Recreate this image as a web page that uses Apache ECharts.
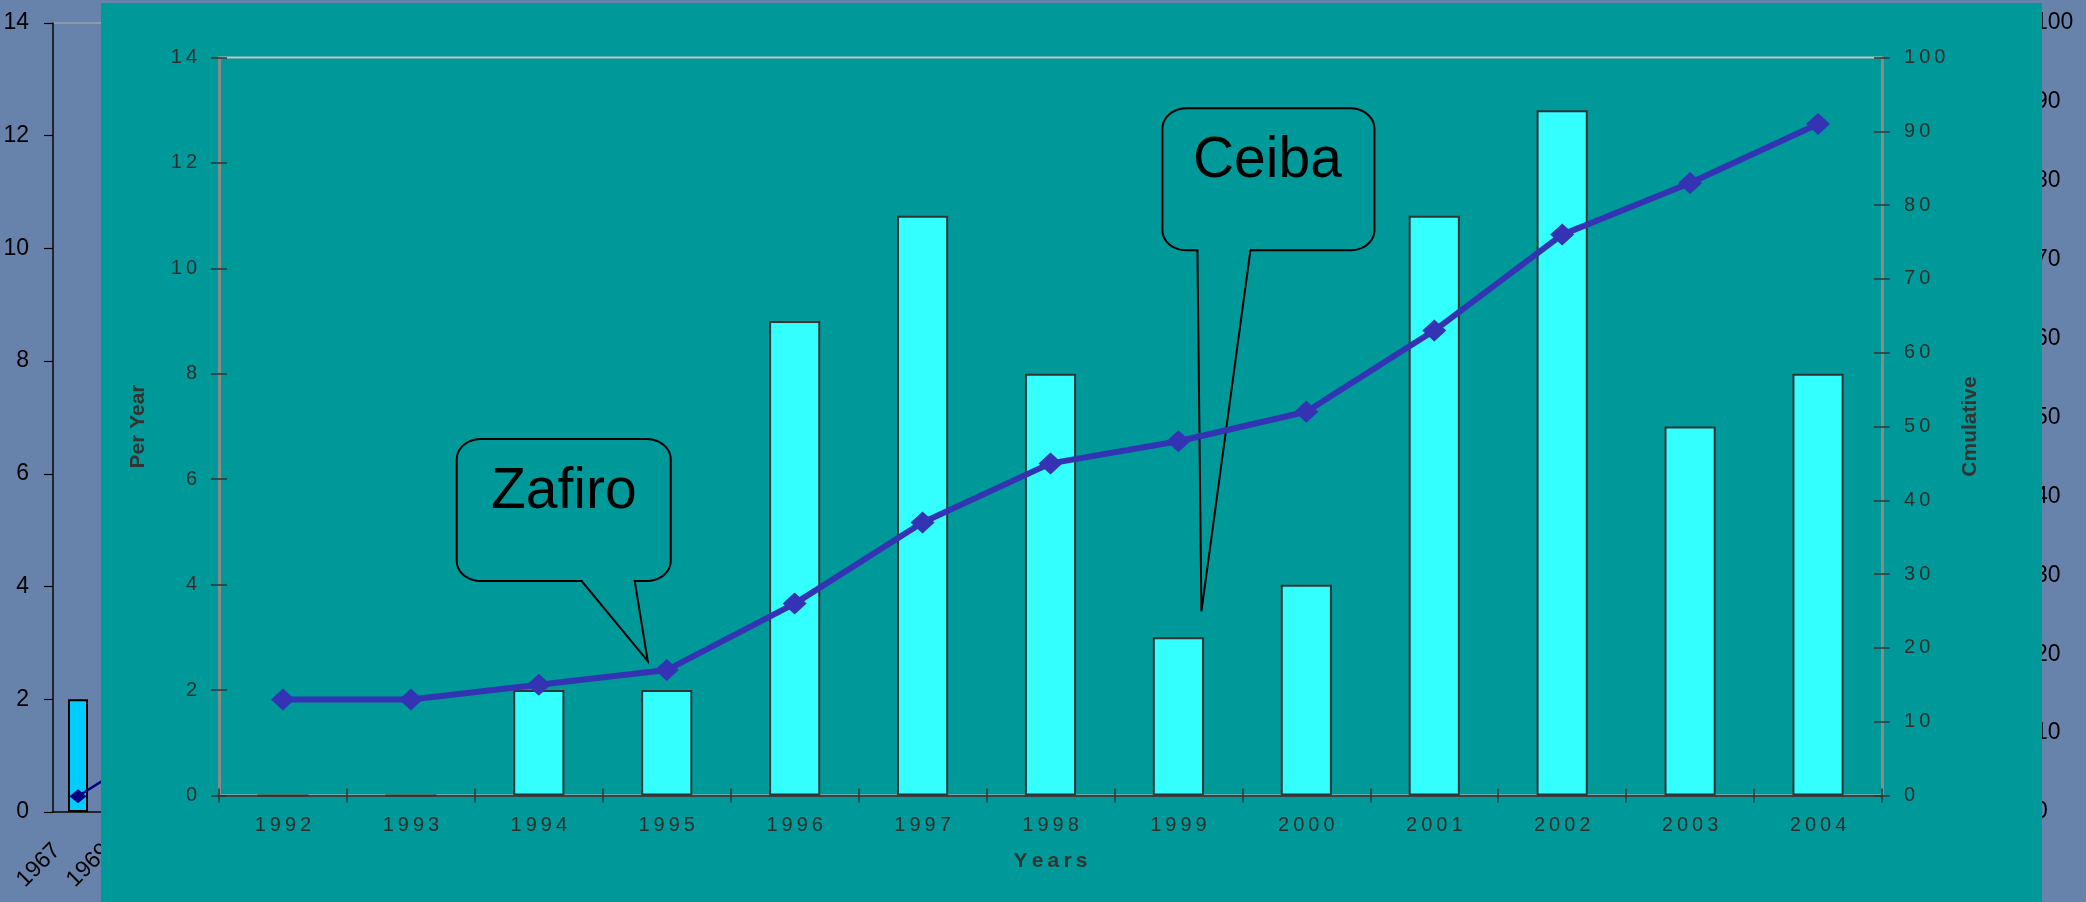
<!DOCTYPE html>
<html>
<head>
<meta charset="utf-8">
<script src="https://cdn.jsdelivr.net/npm/echarts@6/dist/echarts.min.js"></script>
<style>
  html, body { margin: 0; padding: 0; width: 2086px; height: 902px; overflow: hidden; }
  #bg { position: absolute; left: 0; top: 0; width: 2086px; height: 902px; background: #6883ab; }
  #panel { position: absolute; left: 101px; top: 3px; width: 1941px; height: 899px; background: #009999; }
</style>
</head>
<body>
<div id="bg"></div>
<div id="panel"></div>
<script>
// ---------- data ----------
const years = ['1992','1993','1994','1995','1996','1997','1998','1999','2000','2001','2002','2003','2004'];
const perYear = [0, 0, 2, 2, 9, 11, 8, 3, 4, 11, 13, 7, 8];
const cumulative = [13, 13, 15, 17, 26, 37, 45, 48, 52, 63, 76, 83, 91];
const leftMax = 14, leftStep = 2;
const rightMax = 100, rightStep = 10;
const callouts = [
  { text: 'Zafiro', year: '1995' },
  { text: 'Ceiba', year: '1999' }
];
// faded chart of the slide behind
const ghostYears = ['1967', '1969'];
const ghostPerYear = [2];
const ghostCumulative = [2, 6];

const FONT = 'Liberation Sans, Arial, sans-serif';
const spaced = v => String(v).split('').join('\u2009');

// ---------- background (slide behind) ----------
const bg = echarts.init(document.getElementById('bg'));
bg.setOption({
  animation: false,
  grid: [
    { left: 53, top: 23, width: 100, bottom: 90, show: true, borderColor: '#b0b0b0', borderWidth: 1 },
    { right: 63, top: 23, bottom: 90, width: 60 }
  ],
  xAxis: [
    { gridIndex: 0, type: 'category', data: ghostYears,
      axisLine: { lineStyle: { color: '#000', width: 1.5 } },
      axisTick: { show: false },
      axisLabel: { rotate: 45, color: '#000', fontSize: 23, fontFamily: FONT, margin: 14, padding: [0, 30, 0, 0] } },
    { gridIndex: 1, type: 'category', data: [''], show: false }
  ],
  yAxis: [
    { gridIndex: 0, type: 'value', min: 0, max: leftMax, interval: leftStep, position: 'left',
      axisLine: { show: true, lineStyle: { color: '#000', width: 1.5 } },
      axisTick: { show: true, length: 9, lineStyle: { color: '#000', width: 1.2 } },
      axisLabel: { color: '#000', fontSize: 23, fontFamily: FONT, margin: 24 },
      splitLine: { show: false } },
    { gridIndex: 0, type: 'value', min: 0, max: rightMax, show: false },
    { gridIndex: 1, type: 'value', min: 0, max: rightMax, interval: rightStep, position: 'right',
      axisLine: { show: true, lineStyle: { color: '#000', width: 1.5 } },
      axisTick: { show: false },
      axisLabel: { color: '#000', fontSize: 23, fontFamily: FONT, margin: 12 },
      splitLine: { show: false } }
  ],
  series: [
    { type: 'bar', xAxisIndex: 0, yAxisIndex: 0, data: ghostPerYear, barWidth: '40%',
      itemStyle: { color: '#00ccff', borderColor: '#000', borderWidth: 2 } },
    { type: 'line', xAxisIndex: 0, yAxisIndex: 1, data: ghostCumulative,
      symbol: 'diamond', symbolSize: [17, 14],
      lineStyle: { color: '#000080', width: 2.5 }, itemStyle: { color: '#000080' } }
  ]
});

// ---------- main chart ----------
const chart = echarts.init(document.getElementById('panel'));
const tickLabel = { color: '#2e2e2e', fontSize: 20, fontFamily: FONT };
const nameStyle = { color: '#333', fontSize: 21, fontWeight: 'bold', fontFamily: FONT };
const gridRect = { left: 118, right: 160, top: 54.5, bottom: 106.5 };
const tickStyle = { color: '#333', width: 1.5 };

chart.setOption({
  animation: false,
  grid: [
    Object.assign({ show: true, borderColor: '#c4c4c4', borderWidth: 2, backgroundColor: 'transparent' }, gridRect),
    Object.assign({ show: false }, gridRect)
  ],
  xAxis: [
    { gridIndex: 0, type: 'category', data: years, position: 'bottom',
      axisLine: { lineStyle: { color: '#404040', width: 2 } },
      axisTick: { show: true, length: 7, lineStyle: tickStyle },
      axisLabel: Object.assign({ margin: 20, formatter: spaced }, tickLabel),
      name: spaced('Years'), nameLocation: 'middle', nameGap: 55, nameTextStyle: nameStyle },
    { gridIndex: 1, type: 'category', data: years, position: 'bottom',
      axisLine: { show: false },
      axisTick: { show: true, inside: true, length: 7, lineStyle: tickStyle },
      axisLabel: { show: false } }
  ],
  yAxis: [
    { gridIndex: 0, type: 'value', min: 0, max: leftMax, interval: leftStep, position: 'left',
      axisLine: { show: true, lineStyle: { color: '#8a8a8a', width: 3 } },
      axisTick: { show: true, length: 8, lineStyle: tickStyle },
      axisLabel: Object.assign({ margin: 22, formatter: spaced }, tickLabel),
      splitLine: { show: false },
      name: 'Per Year', nameLocation: 'middle', nameRotate: 90, nameGap: 70, nameTextStyle: nameStyle },
    { gridIndex: 0, type: 'value', min: 0, max: rightMax, interval: rightStep, position: 'right',
      axisLine: { show: true, lineStyle: { color: '#8a8a8a', width: 3 } },
      axisTick: { show: true, length: 8, lineStyle: tickStyle },
      axisLabel: Object.assign({ margin: 22, formatter: spaced }, tickLabel),
      splitLine: { show: false },
      name: 'Cmulative', nameLocation: 'middle', nameRotate: 90, nameGap: 78, nameTextStyle: nameStyle },
    { gridIndex: 1, type: 'value', min: 0, max: leftMax, interval: leftStep, position: 'left',
      axisLine: { show: false }, axisTick: { show: true, inside: true, length: 8, lineStyle: tickStyle },
      axisLabel: { show: false }, splitLine: { show: false } },
    { gridIndex: 1, type: 'value', min: 0, max: rightMax, interval: rightStep, position: 'right',
      axisLine: { show: false }, axisTick: { show: true, inside: true, length: 8, lineStyle: tickStyle },
      axisLabel: { show: false }, splitLine: { show: false } }
  ],
  series: [
    { type: 'bar', xAxisIndex: 0, yAxisIndex: 0, data: perYear, barWidth: '40%',
      itemStyle: { color: '#33ffff', borderColor: '#333', borderWidth: 2 } },
    { type: 'line', xAxisIndex: 0, yAxisIndex: 1, data: cumulative, z: 4,
      symbol: 'diamond', symbolSize: [24, 22],
      lineStyle: { color: '#3333b3', width: 6 }, itemStyle: { color: '#3333b3' } }
  ]
});

// ---------- callouts anchored to data ----------
function arc(pts, cx, cy, rx, ry, a0, a1) {
  const n = 10;
  for (let i = 0; i <= n; i++) {
    const a = (a0 + (a1 - a0) * i / n) * Math.PI / 180;
    pts.push([cx + rx * Math.cos(a), cy + ry * Math.sin(a)]);
  }
}
function calloutShape(tip, g) {
  const rx = 24, ry = 20;
  const L = tip[0] + g.L, R = tip[0] + g.R, T = tip[1] + g.T, B = tip[1] + g.B;
  const pts = [[tip[0] + g.pl, B]];
  arc(pts, L + rx, B - ry, rx, ry, 90, 180);
  arc(pts, L + rx, T + ry, rx, ry, 180, 270);
  arc(pts, R - rx, T + ry, rx, ry, 270, 360);
  arc(pts, R - rx, B - ry, rx, ry, 0, 90);
  pts.push([tip[0] + g.pr, B]);
  pts.push([tip[0], tip[1]]);
  return pts;
}
// geometry relative to the tip (pixels)
const geo = {
  Zafiro: { anchor: 'line', dx: -19, dy: -9, L: -191, R: 23, T: -222, B: -80, pl: -66, pr: -13, tx: -84, ty: -169 },
  Ceiba:  { anchor: 'bar',  dx: 23, dy: -26, L: -39, R: 173, T: -503, B: -361, pl: -4, pr: 49, tx: 66, ty: -450 }
};
const graphics = [];
callouts.forEach(c => {
  const g = geo[c.text];
  const i = years.indexOf(c.year);
  const p = g.anchor === 'line'
    ? chart.convertToPixel({ seriesIndex: 1 }, [i, cumulative[i]])
    : chart.convertToPixel({ seriesIndex: 0 }, [i, perYear[i]]);
  const tip = [p[0] + g.dx, p[1] + g.dy];
  graphics.push({
    type: 'polygon', z: 1, silent: true,
    shape: { points: calloutShape(tip, g) },
    style: { fill: 'none', stroke: '#000', lineWidth: 2 }
  });
  graphics.push({
    type: 'text', z: 5, silent: true,
    style: { text: c.text, x: tip[0] + g.tx, y: tip[1] + g.ty,
      font: '57px ' + FONT, fill: '#000',
      align: 'center', verticalAlign: 'middle', textAlign: 'center', textVerticalAlign: 'middle' }
  });
});
chart.setOption({ graphic: graphics });
</script>
</body>
</html>
